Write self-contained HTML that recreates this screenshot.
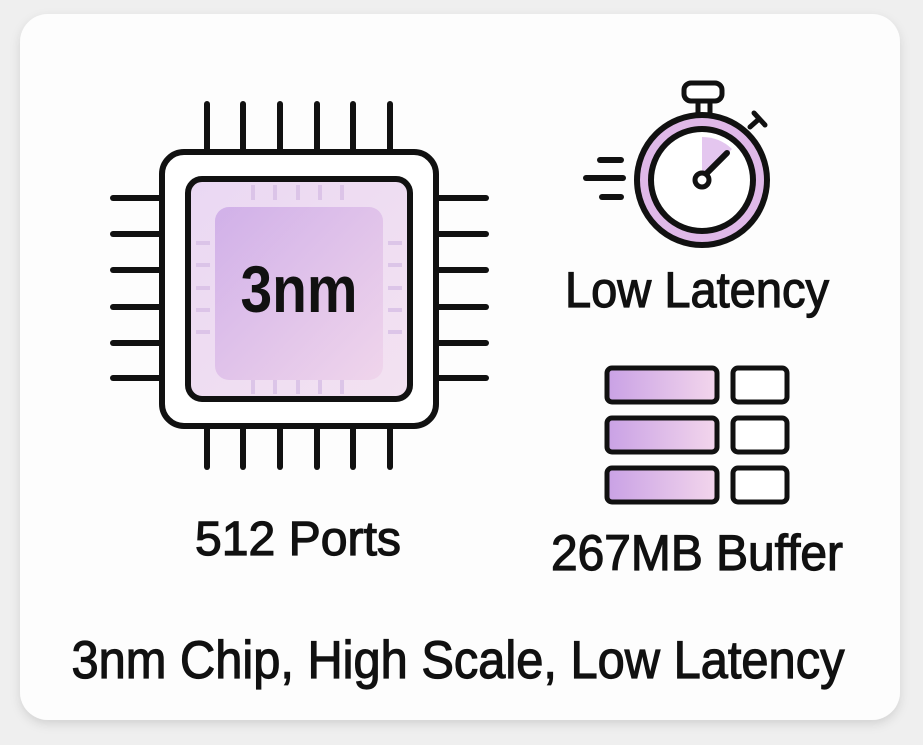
<!DOCTYPE html>
<html><head><meta charset="utf-8"><style>
html,body{margin:0;padding:0;background:#efefef;}
svg{display:block}
text{font-family:"Liberation Sans",sans-serif;fill:#111;}
.m{stroke:#111;stroke-width:1.2;}
</style></head><body>
<svg width="923" height="745" viewBox="0 0 923 745" xmlns="http://www.w3.org/2000/svg">
<defs>
<linearGradient id="g1" x1="0" y1="0" x2="1" y2="1"><stop offset="0" stop-color="#ead8f3"/><stop offset="1" stop-color="#f3e2f1"/></linearGradient>
<linearGradient id="g2" x1="0" y1="0" x2="1" y2="1"><stop offset="0" stop-color="#caa6e6"/><stop offset="1" stop-color="#efd2ea"/></linearGradient>
<linearGradient id="g3" x1="0" y1="0" x2="1" y2="0"><stop offset="0" stop-color="#c9a1e5"/><stop offset="1" stop-color="#f3d6ec"/></linearGradient>
<filter id="sh" x="-5%" y="-5%" width="110%" height="115%"><feDropShadow dx="0" dy="4" stdDeviation="5" flood-color="#000" flood-opacity="0.12"/></filter>
</defs>
<rect x="0" y="0" width="923" height="745" fill="#efefef"/>
<rect x="20" y="14" width="880" height="706" rx="28" fill="#fdfdfd" filter="url(#sh)"/>
<g stroke="#111" stroke-width="6" stroke-linecap="round">
<line x1="207" y1="104" x2="207" y2="150"/><line x1="243" y1="104" x2="243" y2="150"/><line x1="280" y1="104" x2="280" y2="150"/><line x1="317" y1="104" x2="317" y2="150"/><line x1="353" y1="104" x2="353" y2="150"/><line x1="390" y1="104" x2="390" y2="150"/>
<line x1="207" y1="428" x2="207" y2="467"/><line x1="243" y1="428" x2="243" y2="467"/><line x1="280" y1="428" x2="280" y2="467"/><line x1="317" y1="428" x2="317" y2="467"/><line x1="353" y1="428" x2="353" y2="467"/><line x1="390" y1="428" x2="390" y2="467"/>
<line x1="113" y1="198" x2="160" y2="198"/><line x1="113" y1="234" x2="160" y2="234"/><line x1="113" y1="270" x2="160" y2="270"/><line x1="113" y1="307" x2="160" y2="307"/><line x1="113" y1="343" x2="160" y2="343"/><line x1="113" y1="378" x2="160" y2="378"/>
<line x1="438" y1="198" x2="486" y2="198"/><line x1="438" y1="234" x2="486" y2="234"/><line x1="438" y1="270" x2="486" y2="270"/><line x1="438" y1="307" x2="486" y2="307"/><line x1="438" y1="343" x2="486" y2="343"/><line x1="438" y1="378" x2="486" y2="378"/>
</g>
<rect x="162" y="152" width="274" height="274" rx="22" fill="#fff" stroke="#111" stroke-width="6"/>
<rect x="188" y="179" width="222" height="220" rx="14" fill="url(#g1)" stroke="#111" stroke-width="6"/>
<g stroke="#d8bfe6" stroke-width="4" opacity="0.8">
<line x1="253" y1="185" x2="253" y2="200"/><line x1="275" y1="185" x2="275" y2="200"/><line x1="298" y1="185" x2="298" y2="200"/><line x1="320" y1="185" x2="320" y2="200"/><line x1="342" y1="185" x2="342" y2="200"/>
<line x1="253" y1="380" x2="253" y2="394"/><line x1="275" y1="380" x2="275" y2="394"/><line x1="298" y1="380" x2="298" y2="394"/><line x1="320" y1="380" x2="320" y2="394"/><line x1="342" y1="380" x2="342" y2="394"/>
<line x1="196" y1="243" x2="210" y2="243"/><line x1="196" y1="265" x2="210" y2="265"/><line x1="196" y1="288" x2="210" y2="288"/><line x1="196" y1="310" x2="210" y2="310"/><line x1="196" y1="332" x2="210" y2="332"/>
<line x1="388" y1="243" x2="402" y2="243"/><line x1="388" y1="265" x2="402" y2="265"/><line x1="388" y1="288" x2="402" y2="288"/><line x1="388" y1="310" x2="402" y2="310"/><line x1="388" y1="332" x2="402" y2="332"/>
</g>
<rect x="215" y="207" width="168" height="173" rx="14" fill="url(#g2)" opacity="0.8"/>
<text x="299" y="312" font-size="66" font-weight="bold" text-anchor="middle" textLength="117" lengthAdjust="spacingAndGlyphs">3nm</text>
<text class="m" x="298" y="555" font-size="48" text-anchor="middle" textLength="206" lengthAdjust="spacingAndGlyphs">512 Ports</text>
<g stroke="#111" stroke-width="6" stroke-linecap="round">
<line x1="600" y1="160" x2="621" y2="160"/><line x1="586" y1="178" x2="623" y2="178"/><line x1="602" y1="197" x2="621" y2="197"/>
</g>
<rect x="684" y="83" width="38" height="18" rx="7" fill="#fff" stroke="#111" stroke-width="5"/>
<rect x="698" y="101" width="12" height="17" fill="#fff" stroke="#111" stroke-width="5"/>
<g stroke="#111" stroke-width="5" stroke-linecap="round"><line x1="750" y1="127" x2="759" y2="119"/><line x1="754" y1="113" x2="765" y2="125"/></g>
<circle cx="702" cy="180" r="65" fill="#dfb8e8" stroke="#111" stroke-width="6"/>
<circle cx="702" cy="180" r="51" fill="#fff" stroke="#111" stroke-width="6"/>
<path d="M702 180 L702 137 A43 43 0 0 1 732 149 Z" fill="#e4c6ef"/>
<line x1="702" y1="178" x2="727" y2="153" stroke="#111" stroke-width="6" stroke-linecap="round"/>
<circle cx="702" cy="180" r="7" fill="#fff" stroke="#111" stroke-width="5"/>
<text class="m" x="697" y="307" font-size="50" text-anchor="middle" textLength="264" lengthAdjust="spacingAndGlyphs">Low Latency</text>
<g stroke="#111" stroke-width="5">
<rect x="607" y="368" width="110" height="34" rx="5" fill="url(#g3)"/>
<rect x="607" y="418" width="110" height="34" rx="5" fill="url(#g3)"/>
<rect x="607" y="468" width="110" height="34" rx="5" fill="url(#g3)"/>
<rect x="733" y="368" width="54" height="34" rx="5" fill="#fff"/>
<rect x="733" y="418" width="54" height="34" rx="5" fill="#fff"/>
<rect x="733" y="468" width="54" height="34" rx="5" fill="#fff"/>
</g>
<text class="m" x="697" y="570" font-size="50" text-anchor="middle" textLength="292" lengthAdjust="spacingAndGlyphs">267MB Buffer</text>
<text class="m" x="458" y="678" font-size="53" text-anchor="middle" textLength="773" lengthAdjust="spacingAndGlyphs">3nm Chip, High Scale, Low Latency</text>
</svg>
</body></html>
